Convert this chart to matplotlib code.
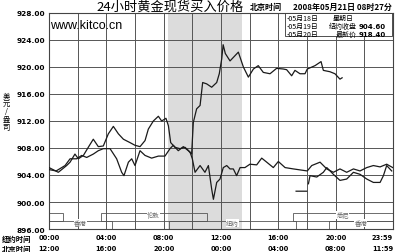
import matplotlib
matplotlib.use("Agg")
import matplotlib.pyplot as plt
from matplotlib.patches import Rectangle
import numpy as np

plt.rcParams['font.family'] = ['Noto Sans CJK SC', 'DejaVu Sans']

# 05/19 (hours NY time, price)
h_0519 = [0, 0.65, 1.23, 1.47, 1.81, 2.05, 2.40, 2.74, 3.09, 3.44, 3.79, 4.14, 4.49, 4.84,
          5.19, 5.65, 6.00, 6.35, 6.70, 6.93, 7.28, 7.63, 7.86, 8.16, 8.33, 8.49, 8.79,
          9.14, 9.49, 9.84, 10.0, 10.19, 10.54, 10.88, 11.12, 11.35, 11.47, 11.70, 11.93,
          12.16, 12.40, 12.63, 12.86, 13.09, 13.33, 13.67, 14.02, 14.49, 14.84, 15.19,
          15.65, 16.0, 16.47, 17.05, 18.02, 18.33, 18.91, 19.38, 19.84, 20.30, 20.77,
          21.24, 21.70, 22.17, 22.63, 23.10, 23.56, 23.98]
p_0519 = [905.1, 904.4, 905.4, 905.9, 907.1, 906.4, 906.9, 908.1, 909.3, 908.2, 908.3, 910.1,
          911.2, 910.1, 909.3, 908.8, 908.4, 908.2, 909.1, 910.8, 912.0, 912.7, 912.0, 912.4,
          911.3, 908.8, 908.1, 907.9, 908.1, 907.4, 906.4, 904.4, 905.4, 904.4, 905.4, 901.9,
          900.4, 902.9, 903.4, 905.1, 905.4, 904.9, 904.9, 903.9, 905.1, 905.1, 905.6, 905.5,
          906.5, 905.9, 905.1, 906.0, 905.1, 904.9, 904.6, 905.4, 905.9, 904.9, 904.4, 904.9,
          904.4, 904.9, 904.6, 905.1, 905.4, 905.2, 905.6, 905.1]

# 05/20
h_0520 = [0, 0.5, 1.12, 1.47, 1.93, 2.28, 2.63, 3.09, 3.44, 3.79, 4.26, 4.72, 5.07, 5.23,
          5.54, 5.77, 6.00, 6.35, 6.70, 7.16, 7.63, 8.09, 8.44, 8.67, 9.02, 9.37, 9.72,
          9.95, 10.07, 10.30, 10.54, 10.72, 11.0, 11.35, 11.70, 11.88, 12.05, 12.15, 12.30,
          12.63, 13.21, 13.56, 13.91, 14.26, 14.60, 14.95, 15.42, 15.88, 16.35, 16.58,
          16.93, 17.16, 17.51, 17.86, 18.02, 18.56, 18.98, 19.14, 19.60, 19.95, 20.30, 20.45]
p_0520 = [904.8, 904.6, 905.4, 906.4, 906.4, 906.9, 906.6, 907.1, 907.6, 907.9, 907.9, 906.4,
          904.4, 903.9, 905.9, 906.4, 905.4, 907.6, 906.9, 906.5, 906.8, 906.8, 907.9, 908.4,
          907.6, 908.2, 907.6, 907.1, 911.8, 913.8, 914.3, 917.7, 917.5, 917.0, 917.7, 919.0,
          921.2, 923.3, 922.0, 920.9, 922.2, 920.0, 918.5, 919.7, 920.2, 919.2, 919.0, 919.8,
          919.7, 919.6, 918.7, 919.5, 919.0, 919.0, 919.7, 920.2, 920.8, 919.5, 919.3, 919.0,
          918.2, 918.4]

# 05/18 (Sunday evening)
h_0518 = [17.24, 17.98, np.nan, 18.10, 18.21, 18.68, 19.14, 19.38, 19.84, 20.30, 20.77,
          21.24, 21.70, 22.17, 22.63, 23.10, 23.33, 23.56, 23.91]
p_0518 = [901.6, 901.6, np.nan, 902.7, 903.9, 903.7, 904.4, 905.1, 904.1, 903.2, 903.4,
          904.4, 904.1, 903.4, 902.9, 902.9, 903.9, 905.4, 904.6]

# market sessions (row 0 = upper, row 1 = lower)
sess_name = ['', '伦敦', '悉尼', '香港', '纽约', '香港']
sess_row = [0, 0, 0, 1, 1, 1]
sess_start = [0, 3.6, 17.0, 0, 8.4, 19.5]
sess_end = [1.0, 11.0, 24.0, 4.4, 17.2, 24.0]

ny_ticks = [0, 4, 8, 12, 16, 20, 24]
ny_labels = ['00:00', '04:00', '08:00', '12:00', '16:00', '20:00', '23:59']
bj_labels = ['12:00', '16:00', '20:00', '00:00', '04:00', '08:00', '11:59']
y_ticks = [896, 900, 904, 908, 912, 916, 920, 924, 928]

fig = plt.figure(figsize=(4, 2.53), dpi=100)
ax = fig.add_axes([0.1225, 0.0909, 0.86, 0.8538])
ax.set_xlim(0, 24)
ax.set_ylim(896, 928)

ax.axvspan(8.33, 13.5, color='#dcdcdc', zorder=0, lw=0)
for x in range(2, 24, 2):
    ax.axvline(x, color='#555555', lw=0.7, zorder=1)
for y in y_ticks[1:-1]:
    ax.axhline(y, color='#555555', lw=0.7, zorder=1)

row_y = [(897.2, 898.4), (896.0, 897.2)]
for name, r, s, e in zip(sess_name, sess_row, sess_start, sess_end):
    lo, hi = row_y[r]
    ax.add_patch(Rectangle((s, lo), e - s, hi - lo, fill=False, ec='#555555', lw=0.6, zorder=2))
    if name:
        ax.text((s + e) / 2, hi - 0.3, name, fontsize=4.6, color='#666666', ha='center',
                va='center', zorder=3, bbox=dict(fc='white', ec='none', pad=0.2))

ax.plot(h_0519, p_0519, color='#1a1a1a', lw=0.9, zorder=4)
ax.plot(h_0520, p_0520, color='#1a1a1a', lw=0.9, zorder=4)
ax.plot(h_0518, p_0518, color='#1a1a1a', lw=0.9, zorder=4)

ax.set_yticks(y_ticks)
ax.set_yticklabels([f'{v:.2f}' for v in y_ticks], fontsize=5.3, fontweight='bold',
                   family='DejaVu Sans')
ax.set_xticks([])
ax.tick_params(axis='y', length=0, pad=3)
for s in ax.spines.values():
    s.set_color('#444444')
    s.set_linewidth(0.8)

for t, a, b in zip(ny_ticks, ny_labels, bj_labels):
    ha = 'right' if t == 24 else 'center'
    ax.text(t, -0.037, a, transform=ax.get_xaxis_transform(), fontsize=4.8,
            fontweight='bold', family='DejaVu Sans', ha=ha, va='center')
    ax.text(t, -0.088, b, transform=ax.get_xaxis_transform(), fontsize=4.8,
            fontweight='bold', family='DejaVu Sans', ha=ha, va='center')
fig.text(0.005, 1 - 239 / 253, '纽约时间', fontsize=5.3, fontweight='bold', va='center')
fig.text(0.005, 1 - 249 / 253, '北京时间', fontsize=5.3, fontweight='bold', va='center')

fig.text(0.015, 1 - 112 / 253, '美\n元\n/\n盎\n司', fontsize=5.3, ha='center', va='center',
         linespacing=1.0)

fig.text(0.425, 0.972, '24小时黄金现货买入价格', fontsize=9.5, ha='center', va='center')
fig.text(0.625, 0.972, '北京时间', fontsize=5.8, fontweight='bold', ha='left', va='center')
fig.text(0.733, 0.972, '2008年05月21日 08时27分', fontsize=5.8, fontweight='bold',
         ha='left', va='center')
fig.text(0.125, 1 - 26 / 253, 'www.kitco.cn', fontsize=9, family='Liberation Sans',
         ha='left', va='center')

# legend box
fig.patches.append(Rectangle((285 / 400, 1 - 37 / 253), 107 / 400, 23 / 253,
                             transform=fig.transFigure, fc='white', ec='#333333', lw=0.6,
                             zorder=5))
leg_day = ['-05月18日', '-05月19日', '-05月20日']
leg_note = ['星期日', '纽约收盘', '最新价']
leg_val = ['', '904.60', '918.40']
for i, (d, n, v) in enumerate(zip(leg_day, leg_note, leg_val)):
    yy = 1 - (19 + 7.8 * i) / 253
    fig.text(287 / 400, yy, d, fontsize=5, ha='left', va='center', zorder=6)
    if v:
        fig.text(357 / 400, yy, n, fontsize=5, ha='right', va='center', zorder=6)
        fig.text(359 / 400, yy, v, fontsize=5, fontweight='bold', family='DejaVu Sans',
                 ha='left', va='center', zorder=6)
    else:
        fig.text(333 / 400, yy, n, fontsize=5, ha='left', va='center', zorder=6)

fig.savefig('out.png', dpi=100)
